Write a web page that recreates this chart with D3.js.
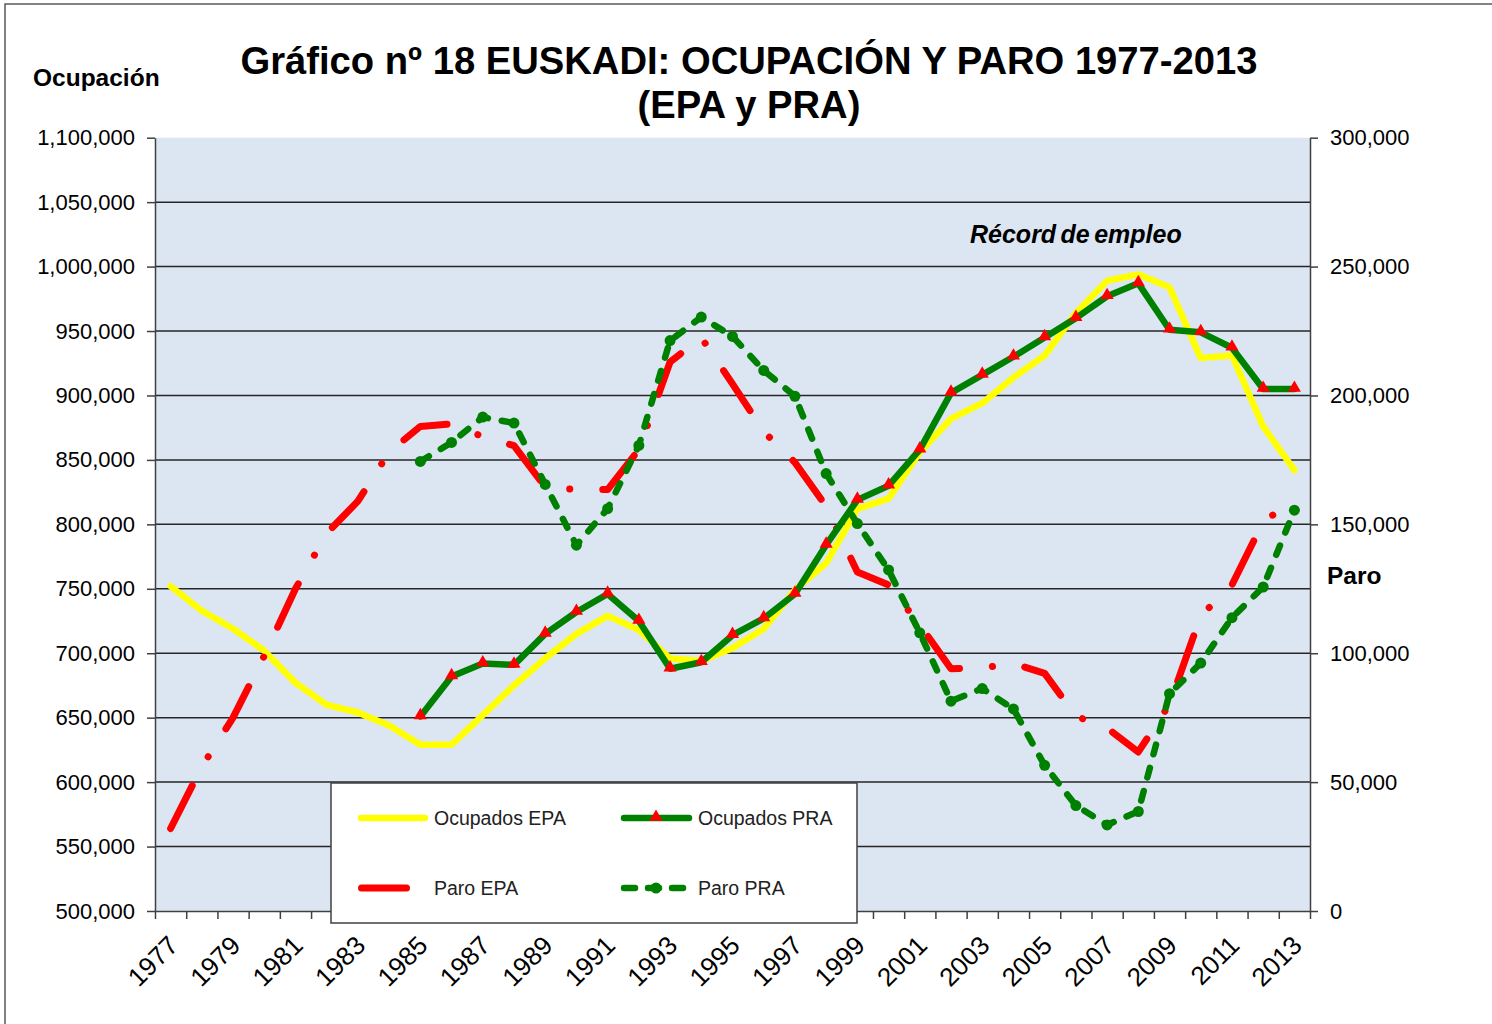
<!DOCTYPE html>
<html>
<head>
<meta charset="utf-8">
<script src="https://cdn.jsdelivr.net/npm/d3@7"></script>
<style>
  body { margin: 0; background: #fff; }
  text { font-family: "Liberation Sans", Arial, sans-serif; fill: #000; }
</style>
</head>
<body>
<svg id="chart" width="1492" height="1024"></svg>
<script>
// years on the category axis
let years = d3.range(1977, 2014);
let yearLabels = years.filter(function(y) { return y % 2 == 1; });

// Ocupados EPA
let ocupadosEPA = [752000, 733000, 719000, 702000, 677000, 660000, 654000, 644000, 629000, 629000,
    652000, 675000, 696000, 715000, 729000, 718000, 696000, 694000, 704000, 719000,
    749000, 770000, 812000, 820000, 856000, 882000, 894000, 914000, 931000, 964000,
    989000, 994000, 984000, 929000, 931000, 876000, 842000];

// Ocupados PRA (starts 1985)
let ocupadosPRA = [null, null, null, null, null, null, null, null, 651000, 682000,
    692000, 691000, 715000, 732000, 746000, 725000, 688000, 693000, 714000, 727000,
    746000, 784000, 819000, 830000, 858000, 902000, 916000, 930000, 945000, 960000,
    977000, 987000, 951000, 949000, 937000, 905000, 905000];

// Paro EPA (right axis)
let paroEPA = [32000, 56000, 75000, 99000, 125000, 146500, 159000, 178000, 188000, 189000,
    184000, 180500, 164500, 163500, 163500, 179000, 213000, 222500, 204500, 186000,
    174000, 157000, 131500, 126500, 111000, 94000, 94300, 96000, 92200, 75600,
    71000, 61700, 80200, 114500, 126500, 151000, 159500];

// Paro PRA (right axis, starts 1985)
let paroPRA = [null, null, null, null, null, null, null, null, 174400, 181800,
    191600, 189300, 165500, 141900, 156100, 180600, 221300, 230400, 222900, 209700,
    199700, 169700, 150300, 132300, 107900, 81400, 86300, 78400, 56500, 40900,
    33400, 38600, 84300, 96200, 113800, 125700, 155500];

let leftTicks = d3.range(500000, 1100001, 50000);
let rightTicks = d3.range(0, 300001, 50000);

let svg = d3.select("#chart");

let plot = {left: 155, right: 1310, top: 137.7, bottom: 911};

// outer frame of the excel chart
svg.append("rect")
    .attr("x", 5).attr("y", 4)
    .attr("width", 1520).attr("height", 1060)
    .style("fill", "none")
    .style("stroke", "#595959")
    .style("stroke-width", 1.5);

let x = d3.scalePoint()
    .domain(years)
    .range([plot.left, plot.right])
    .padding(0.5);

let xEdges = d3.scaleLinear()
    .domain([0, years.length])
    .range([plot.left, plot.right]);

let yLeft = d3.scaleLinear()
    .domain([500000, 1100000])
    .range([plot.bottom, plot.top]);

let yRight = d3.scaleLinear()
    .domain([0, 300000])
    .range([plot.bottom, plot.top]);

// plot background
svg.append("rect")
    .attr("x", plot.left).attr("y", plot.top)
    .attr("width", plot.right - plot.left)
    .attr("height", plot.bottom - plot.top)
    .style("fill", "#dce6f2");

// horizontal grid
svg.append("g").selectAll("line")
    .data(leftTicks.filter(function(d) { return d > 500000 && d < 1100000; }))
    .join("line")
    .attr("x1", plot.left).attr("x2", plot.right)
    .attr("y1", function(d) { return yLeft(d); })
    .attr("y2", function(d) { return yLeft(d); })
    .style("stroke", "#262626")
    .style("stroke-width", 1.5);

// axes
let fmt = d3.format(",");

let gLeft = svg.append("g")
    .attr("transform", "translate(" + plot.left + ",0)")
    .call(d3.axisLeft(yLeft).tickValues(leftTicks).tickFormat(fmt).tickSize(8).tickPadding(12).tickSizeOuter(0));

let gRight = svg.append("g")
    .attr("transform", "translate(" + plot.right + ",0)")
    .call(d3.axisRight(yRight).tickValues(rightTicks).tickFormat(fmt).tickSize(8).tickPadding(12).tickSizeOuter(0));

let gBottom = svg.append("g")
    .attr("transform", "translate(0," + plot.bottom + ")")
    .call(d3.axisBottom(xEdges).tickValues(d3.range(years.length + 1)).tickFormat("").tickSize(8).tickSizeOuter(0));

[gLeft, gRight, gBottom].forEach(function(g) {
    g.selectAll("path, line").style("stroke", "#404040").style("stroke-width", 1.5);
    g.selectAll("text")
        .style("font-family", "Liberation Sans, Arial, sans-serif")
        .style("font-size", "22px")
        .style("fill", "#000");
});

// rotated year labels (odd years)
svg.append("g").selectAll("text")
    .data(yearLabels)
    .join("text")
    .attr("transform", function(d) {
        return "translate(" + (x(d) + 9) + "," + 947 + ") rotate(-45)";
    })
    .attr("text-anchor", "end")
    .style("font-size", "26px")
    .text(function(d) { return d; });

// series
function line(scale) {
    return d3.line()
        .defined(function(d) { return d != null; })
        .x(function(d, i) { return x(years[i]); })
        .y(function(d) { return scale(d); });
}

svg.append("path")
    .datum(ocupadosEPA)
    .attr("d", line(yLeft))
    .style("fill", "none")
    .style("stroke", "#ffff00")
    .style("stroke-width", 6.5)
    .style("stroke-linejoin", "round")
    .style("stroke-linecap", "round");

svg.append("path")
    .datum(paroEPA)
    .attr("d", line(yRight))
    .style("fill", "none")
    .style("stroke", "#ff0000")
    .style("stroke-width", 7)
    .style("stroke-linejoin", "round")
    .style("stroke-linecap", "round")
    .style("stroke-dasharray", "48,33,0.1,33");

svg.append("path")
    .datum(ocupadosPRA)
    .attr("d", line(yLeft))
    .style("fill", "none")
    .style("stroke", "#008000")
    .style("stroke-width", 6.5)
    .style("stroke-linejoin", "round")
    .style("stroke-linecap", "round");

let tri = d3.symbol().type(d3.symbolTriangle).size(75);

let ocupPRAPoints = years.map(function(y, i) { return {year: y, v: ocupadosPRA[i]}; })
    .filter(function(d) { return d.v != null; });

svg.append("g").selectAll("path")
    .data(ocupPRAPoints)
    .join("path")
    .attr("d", tri)
    .attr("transform", function(d) { return "translate(" + x(d.year) + "," + (yLeft(d.v) - 1) + ")"; })
    .style("fill", "#ff0000");

svg.append("path")
    .datum(paroPRA)
    .attr("d", line(yRight))
    .style("fill", "none")
    .style("stroke", "#008000")
    .style("stroke-width", 6.5)
    .style("stroke-linejoin", "round")
    .style("stroke-linecap", "round")
    .style("stroke-dasharray", "10,14");

let paroPRAPoints = years.map(function(y, i) { return {year: y, v: paroPRA[i]}; })
    .filter(function(d) { return d.v != null; });

svg.append("g").selectAll("circle")
    .data(paroPRAPoints)
    .join("circle")
    .attr("cx", function(d) { return x(d.year); })
    .attr("cy", function(d) { return yRight(d.v); })
    .attr("r", 5.5)
    .style("fill", "#008000");

// legend box
let legend = svg.append("g");
legend.append("rect")
    .attr("x", 331).attr("y", 783)
    .attr("width", 526).attr("height", 140)
    .style("fill", "#fff")
    .style("stroke", "#404040")
    .style("stroke-width", 1.5);

legend.append("line")
    .attr("x1", 361).attr("x2", 425).attr("y1", 818).attr("y2", 818)
    .style("stroke", "#ffff00").style("stroke-width", 6.5).style("stroke-linecap", "round");
legend.append("line")
    .attr("x1", 624).attr("x2", 689).attr("y1", 818).attr("y2", 818)
    .style("stroke", "#008000").style("stroke-width", 6.5).style("stroke-linecap", "round");
legend.append("path")
    .attr("d", tri)
    .attr("transform", "translate(656,817)")
    .style("fill", "#ff0000");
legend.append("line")
    .attr("x1", 361.5).attr("x2", 425).attr("y1", 888).attr("y2", 888)
    .style("stroke", "#ff0000").style("stroke-width", 7).style("stroke-linecap", "round")
    .style("stroke-dasharray", "45,60");
legend.append("line")
    .attr("x1", 624).attr("x2", 690).attr("y1", 888).attr("y2", 888)
    .style("stroke", "#008000").style("stroke-width", 6.5).style("stroke-linecap", "round")
    .style("stroke-dasharray", "11,13");
legend.append("circle")
    .attr("cx", 656).attr("cy", 888).attr("r", 5.5)
    .style("fill", "#008000");

let legendText = [
    {t: "Ocupados EPA", x: 434, y: 825},
    {t: "Ocupados PRA", x: 698, y: 825},
    {t: "Paro EPA", x: 434, y: 895},
    {t: "Paro PRA", x: 698, y: 895}
];
legend.selectAll("text")
    .data(legendText)
    .join("text")
    .attr("x", function(d) { return d.x; })
    .attr("y", function(d) { return d.y; })
    .style("font-size", "19.5px")
    .style("fill", "#222")
    .text(function(d) { return d.t; });

// titles and notes
svg.append("text")
    .attr("x", 749).attr("y", 74)
    .attr("text-anchor", "middle")
    .style("font-size", "38.2px")
    .style("font-weight", "bold")
    .text("Gráfico nº 18 EUSKADI: OCUPACIÓN Y PARO 1977-2013");

svg.append("text")
    .attr("x", 749).attr("y", 118)
    .attr("text-anchor", "middle")
    .style("font-size", "38.2px")
    .style("font-weight", "bold")
    .text("(EPA y PRA)");

svg.append("text")
    .attr("x", 33).attr("y", 86)
    .style("font-size", "24.5px")
    .style("font-weight", "bold")
    .text("Ocupación");

svg.append("text")
    .attr("x", 1327).attr("y", 584)
    .style("font-size", "24.5px")
    .style("font-weight", "bold")
    .text("Paro");

svg.append("text")
    .attr("x", 970).attr("y", 243)
    .style("font-size", "25px")
    .style("font-weight", "bold")
    .style("font-style", "italic")
    .style("word-spacing", "-2.5px")
    .text("Récord de empleo");
</script>
</body>
</html>
